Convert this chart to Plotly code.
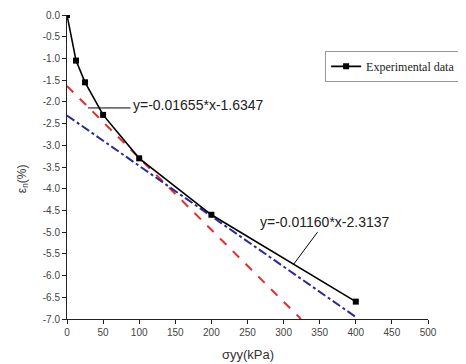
import plotly.graph_objects as go

# Experimental data
stress = [0, 12.5, 25, 50, 100, 200, 400]
strain = [0.0, -1.05, -1.55, -2.3, -3.3, -4.6, -6.6]

# Fitted lines (endpoints)
fit1_x = [0, 324]
fit1_y = [-1.6347, -7.0]
fit2_x = [0, 400]
fit2_y = [-2.3137, -6.9537]

x_ticks = [0, 50, 100, 150, 200, 250, 300, 350, 400, 450, 500]
y_ticks = [0.0, -0.5, -1.0, -1.5, -2.0, -2.5, -3.0, -3.5, -4.0, -4.5, -5.0, -5.5, -6.0, -6.5, -7.0]

fig = go.Figure()
fig.add_trace(go.Scatter(x=fit1_x, y=fit1_y, mode="lines",
                         line=dict(color="#e0302c", width=2, dash="dash"),
                         showlegend=False))
fig.add_trace(go.Scatter(x=fit2_x, y=fit2_y, mode="lines",
                         line=dict(color="#2a2aa0", width=2, dash="dashdot"),
                         showlegend=False))
fig.add_trace(go.Scatter(x=stress, y=strain, mode="lines+markers",
                         name="Experimental data",
                         line=dict(color="black", width=1.6),
                         marker=dict(symbol="square", size=6, color="black")))

# annotation leader lines
fig.add_shape(type="line", x0=29, y0=-2.14, x1=88, y1=-2.14,
              line=dict(color="black", width=1))
fig.add_shape(type="line", x0=347, y0=-5.0, x1=313, y1=-5.76,
              line=dict(color="black", width=1))
fig.add_annotation(x=88, y=-2.08, text="y=-0.01655*x-1.6347", showarrow=False,
                   xanchor="left", yanchor="middle",
                   font=dict(family="Liberation Sans", size=14, color="#222"))
fig.add_annotation(x=357, y=-4.77, text="y=-0.01160*x-2.3137", showarrow=False,
                   xanchor="center", yanchor="middle",
                   font=dict(family="Liberation Sans", size=14, color="#222"))
# axis titles
fig.add_annotation(xref="paper", yref="paper", x=0, y=0.46, xshift=-44,
                   text="ε<sub>n</sub>(%)", showarrow=False, textangle=-90,
                   xanchor="center", yanchor="middle",
                   font=dict(family="Liberation Sans", size=12, color="#333"))
fig.add_annotation(xref="paper", yref="paper", x=0.5, y=0, yshift=-35,
                   text="σyy(kPa)", showarrow=False,
                   xanchor="center", yanchor="middle",
                   font=dict(family="Liberation Sans", size=13, color="#333"))

fig.update_layout(
    width=458, height=356,
    margin=dict(l=59, r=38, t=7, b=45, autoexpand=False),
    paper_bgcolor="white", plot_bgcolor="white",
    font=dict(family="Liberation Sans", size=10, color="#333"),
    legend=dict(x=0.715, y=0.882, xanchor="left", yanchor="top",
                bordercolor="#999", borderwidth=1, bgcolor="white",
                font=dict(family="Liberation Serif", size=12, color="#222"),
                tracegroupgap=0, itemwidth=30),
    xaxis=dict(range=[0, 500], tickvals=x_ticks, ticktext=[str(v) for v in x_ticks],
               showgrid=False, zeroline=False, showline=True, linecolor="#222",
               linewidth=1, ticks="outside", ticklen=4, tickcolor="#222",
               tickfont=dict(size=10, color="#444"), automargin=False),
    yaxis=dict(range=[-7, 0], tickvals=y_ticks, ticktext=[f"{v:.1f}" for v in y_ticks],
               showgrid=False, zeroline=False, showline=True, linecolor="#222",
               linewidth=1, ticks="outside", ticklen=4, tickcolor="#222",
               tickfont=dict(size=10, color="#444"), automargin=False),
)

fig.write_html("out.html")
